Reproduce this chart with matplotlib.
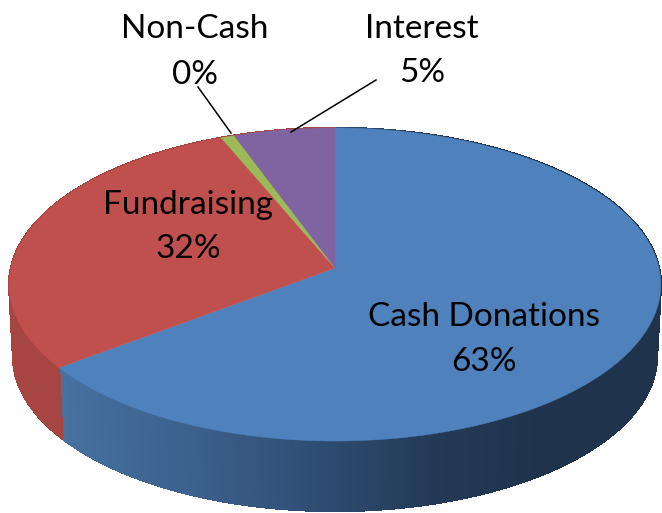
import numpy as np
import matplotlib
matplotlib.use('Agg')
import matplotlib.pyplot as plt
from matplotlib.collections import PolyCollection
from matplotlib.colors import LinearSegmentedColormap

# shares as measured from the slice edges, clockwise from 12 o'clock
names = ['Cash Donations', 'Fundraising', 'Non-Cash', 'Interest']
shares = [64.7, 29.0, 0.75, 5.55]
pct_labels = ['63%', '32%', '0%', '5%']
top_colors = ['#4f81bd', '#c0504d', '#9bbb59', '#8064a2']

# wall colour running left to right
blue_wall = LinearSegmentedColormap.from_list('blue_wall', [(0, '#47719f'), (0.2, '#3c628e'), (0.42, '#2f4e74'),
                                                            (0.62, '#233a57'), (0.8, '#1f334c'), (1, '#1f334c')])
red_wall = LinearSegmentedColormap.from_list('red_wall', ['#a64541', '#a64541'])
wall_maps = [blue_wall, red_wall, red_wall, red_wall]


def project(angle, r=1.0, scale=1.0, drop=0.0):
    # angle clockwise from top, seen through a slight perspective
    x = r * np.sin(angle)
    y = r * np.cos(angle)
    k = 0.1054
    w = 1 + k * y
    return 335 + scale * 324 * x / w, 268 + drop - scale * 154.8 * y / w


fig = plt.figure(figsize=(6.62, 5.13), dpi=100)
ax = fig.add_axes([0, 0, 1, 1])
ax.set_xlim(0, 662)
ax.set_ylim(513, 0)
ax.axis('off')

edges = np.radians(np.cumsum([0] + shares) / sum(shares) * 360)

for i in range(len(shares)):
    t = np.linspace(edges[i], edges[i + 1], max(int((edges[i + 1] - edges[i]) * 200), 4))
    x_top, y_top = project(t)
    x_bot, y_bot = project(t, scale=0.988, drop=72)
    quads = [[(x_top[j], y_top[j]), (x_top[j + 1], y_top[j + 1]), (x_bot[j + 1], y_bot[j + 1]), (x_bot[j], y_bot[j])]
             for j in range(len(t) - 1)]
    cols = [wall_maps[i]((x_top[j] - 60) / 600) for j in range(len(t) - 1)]
    ax.add_collection(PolyCollection(quads, facecolors=cols, edgecolors=cols, linewidths=1.0, antialiaseds=False, zorder=1))

for i in range(len(shares)):
    t = np.linspace(edges[i], edges[i + 1], max(int((edges[i + 1] - edges[i]) * 120), 4))
    x_top, y_top = project(t)
    ax.fill(np.r_[335, x_top], np.r_[268, y_top], color=top_colors[i], lw=0.3, zorder=2)

# leader lines
ax.plot([198, 231], [87, 133], color='k', lw=1.1, zorder=3)
ax.plot([376, 291], [80, 132], color='k', lw=1.1, zorder=3)

label_x = [484, 188, 195, 422]
name_y = [317, 205, 29, 29]
pct_y = [362, 249, 75, 73]
for i in range(len(names)):
    ax.text(label_x[i], name_y[i], names[i], family='Lato', fontsize=24, ha='center', va='center', color='k', zorder=4)
    ax.text(label_x[i], pct_y[i], pct_labels[i], family='Lato', fontsize=24, ha='center', va='center', color='k', zorder=4)

fig.savefig('out.png', dpi=100)
